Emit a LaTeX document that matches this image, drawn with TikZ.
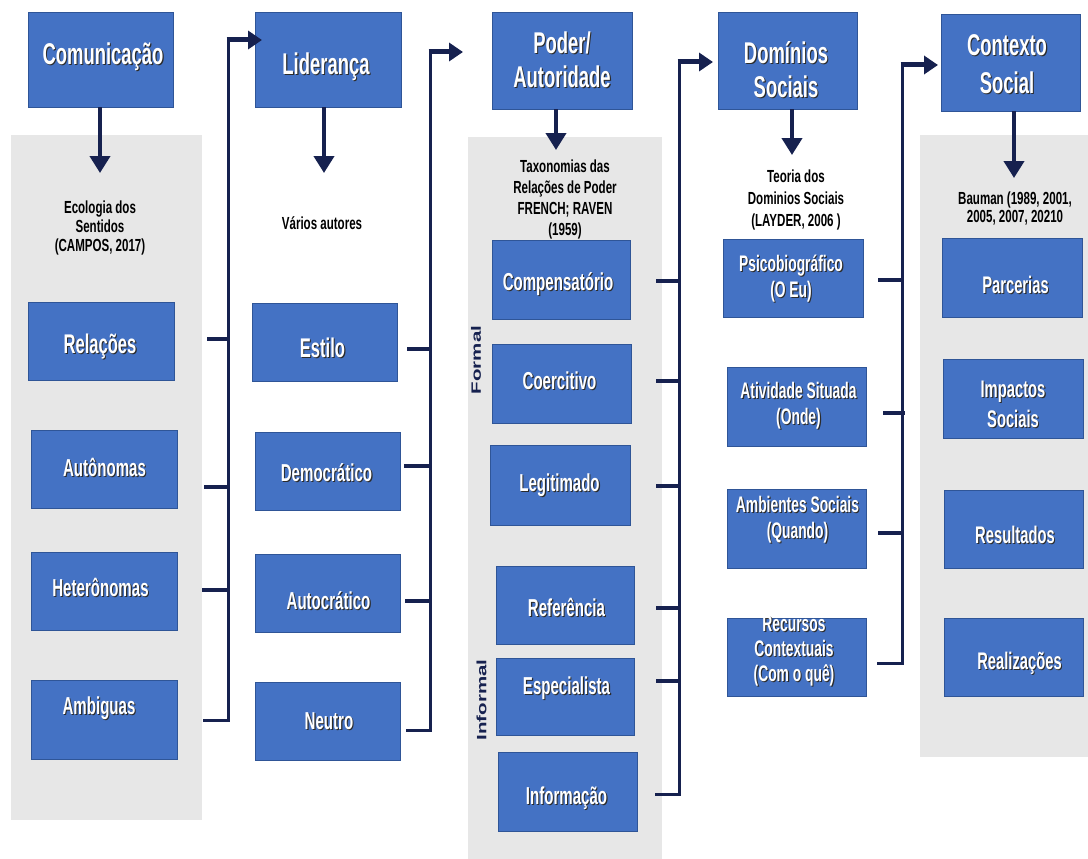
\documentclass[tikz,border=0pt]{standalone}
\usepackage{fontspec}
\setmainfont{Liberation Sans}
\newfontfamily\cond[FakeStretch=0.66]{Liberation Sans}
\newfontfamily\condw[FakeStretch=0.615]{Liberation Sans}
\usetikzlibrary{arrows.meta,calc}
\definecolor{boxblue}{HTML}{4472C4}
\definecolor{boxedge}{HTML}{2F5597}
\definecolor{panelgray}{HTML}{E7E7E7}
\definecolor{navy}{HTML}{16214F}
\definecolor{txtshadow}{HTML}{2B2B2B}
% white lettering with a small dark drop shadow
\newcommand\shd[1]{\leavevmode\rlap{\kern1.1pt\raisebox{-1.1pt}{\textcolor{txtshadow}{#1}}}#1}
\begin{document}
\begin{tikzpicture}[x=1pt,y=-1pt,
  bx/.style 2 args={fill=boxblue, draw=boxedge, line width=0.9pt, inner sep=0pt,
                    minimum width=#1, minimum height=#2},
  wt/.style={text=white, inner sep=0pt, align=center},
  ttop/.style={wt, font=\condw\bfseries\fontsize{30}{34}\selectfont},
  tbig/.style={wt, font=\condw\bfseries\fontsize{27}{30}\selectfont},
  tcol/.style={wt, font=\condw\bfseries\fontsize{24.5}{28}\selectfont},
  tdom/.style={wt, font=\condw\bfseries\fontsize{22.5}{26}\selectfont},
  tctx/.style={wt, font=\condw\bfseries\fontsize{24}{30}\selectfont},
  sub/.style={text=black, inner sep=0pt, align=center, font=\cond\bfseries\fontsize{17.5}{#1}\selectfont},
  side/.style={text=navy, inner sep=0pt, rotate=90, font=\bfseries\fontsize{20.5}{22}\selectfont},
  stub/.style={draw=navy, line width=3.4pt},
  bus/.style={draw=navy, line width=3pt, line cap=rect},
  toparrow/.style={draw=navy, line width=5pt, -{Triangle[length=14pt,width=18pt]}},
  downarrow/.style={draw=navy, line width=4pt, -{Triangle[length=17pt,width=20pt]}}
]
\fill[white] (0,0) rectangle (1088,859);
\useasboundingbox (0,0) rectangle (1088,859);

% grey panels behind the lists
\fill[panelgray] (11,135) rectangle (202,820);
\fill[panelgray] (468,137) rectangle (662,859);
\fill[panelgray] (920,135) rectangle (1088,757);

% header boxes
\node[bx={145pt}{95pt}] (com) at (100.5,59.5) {};
\node[bx={146pt}{95pt}] (lid) at (328.5,59.5) {};
\node[bx={140pt}{97pt}] (pod) at (562,60.5) {};
\node[bx={139pt}{97pt}] (dom) at (787.5,60.5) {};
\node[bx={139pt}{97pt}] (ctx) at (1010.5,62.5) {};
\node[ttop] (com-t) at (103,57) {\shd{Comunicação}};
\node[ttop] (lid-t) at (326,67) {\shd{Liderança}};
\node[ttop] (pod-t) at (562,60) {\shd{Poder/}\\\shd{Autoridade}};
\node[ttop] (dom-t) at (786,70) {\shd{Domínios}\\\shd{Sociais}};
\node[ttop, font=\condw\bfseries\fontsize{30}{38}\selectfont] (ctx-t) at (1007,65) {\shd{Contexto}\\\shd{Social}};

% sources under each header
\node[sub=19] (eco-t) at (100,228) {Ecologia dos\\Sentidos\\(CAMPOS, 2017)};
\node[sub=19] (var-t) at (322,223) {Vários autores};
\node[sub=21] (tax-t) at (565,199) {Taxonomias das\\Relações de Poder\\FRENCH; RAVEN\\(1959)};
\node[sub=22] (teo-t) at (796,200) {Teoria dos\\Dominios Sociais\\(LAYDER, 2006 )};
\node[sub=18] (bau-t) at (1015,209) {Bauman (1989, 2001,\\2005, 2007, 20210};

% Comunicação column
\node[bx={146pt}{78pt}] (rel) at (101,341) {};
\node[bx={146pt}{78pt}] (aut) at (104,469) {};
\node[bx={146pt}{78pt}] (het) at (104,591) {};
\node[bx={146pt}{79pt}] (amb) at (104,719.5) {};
\node[tbig] (rel-t) at (100,347) {\shd{Relações}};
\node[tcol] (aut-t) at (104.5,468) {\shd{Autônomas}};
\node[tcol] (het-t) at (100.5,588) {\shd{Heterônomas}};
\node[tcol] (amb-t) at (99,709) {\shd{Ambiguas}};

% Liderança column
\node[bx={145pt}{78pt}] (est) at (324.5,342) {};
\node[bx={145pt}{78pt}] (dem) at (327.5,471) {};
\node[bx={145pt}{78pt}] (atc) at (327.5,593) {};
\node[bx={145pt}{78pt}] (neu) at (327.5,721) {};
\node[tbig] (est-t) at (322.5,348) {\shd{Estilo}};
\node[tcol] (dem-t) at (326.5,473) {\shd{Democrático}};
\node[tcol] (atc-t) at (328.5,601) {\shd{Autocrático}};
\node[tcol] (neu-t) at (329,722) {\shd{Neutro}};

% Poder/Autoridade column
\node[bx={138pt}{79pt}] (cmp) at (561,279.5) {};
\node[bx={139pt}{79pt}] (coe) at (561.5,383.5) {};
\node[bx={140pt}{80pt}] (leg) at (560,485) {};
\node[bx={138pt}{78pt}] (ref) at (565,605) {};
\node[bx={138pt}{77pt}] (esp) at (565,696.5) {};
\node[bx={139pt}{79pt}] (inf) at (567.5,791.5) {};
\node[tcol] (cmp-t) at (558,285) {\shd{Compensatório}};
\node[tcol] (coe-t) at (559.5,381) {\shd{Coercitivo}};
\node[tcol] (leg-t) at (559.5,486) {\shd{Legitimado}};
\node[tcol] (ref-t) at (566.5,608) {\shd{Referência}};
\node[tcol] (esp-t) at (566.5,689) {\shd{Especialista}};
\node[tcol] (inf-t) at (566.5,799) {\shd{Informação}};
\node[side] (formal-t) at (476,360) {\scalebox{1}[0.66]{Formal}};
\node[side] (informal-t) at (481.5,700) {\scalebox{1}[0.66]{Informal}};

% Domínios Sociais column
\node[bx={140pt}{78pt}] (psi) at (793,278) {};
\node[bx={139pt}{79pt}] (ati) at (796.5,406.5) {};
\node[bx={139pt}{79pt}] (ams) at (796.5,528.5) {};
\node[bx={139pt}{78pt}] (rec) at (796.5,657) {};
\node[tdom] (psi-t) at (791,279) {\shd{Psicobiográfico}\\\shd{(O Eu)}};
\node[tdom] (ati-t) at (798.5,406) {\shd{Atividade Situada}\\\shd{(Onde)}};
\node[tdom] (ams-t) at (797.5,520) {\shd{Ambientes Sociais}\\\shd{(Quando)}};
\node[tdom, font=\condw\bfseries\fontsize{22.5}{25}\selectfont] (rec-t) at (794,652) {\shd{Recursos}\\\shd{Contextuais}\\\shd{(Com o quê)}};

% Contexto Social column
\node[bx={140pt}{79pt}] (par) at (1012,277.5) {};
\node[bx={140pt}{79pt}] (imp) at (1013,398.5) {};
\node[bx={139pt}{78pt}] (res) at (1013.5,529) {};
\node[bx={139pt}{78pt}] (rea) at (1013.5,657) {};
\node[tctx] (par-t) at (1015.5,285) {\shd{Parcerias}};
\node[tctx] (imp-t) at (1013,405) {\shd{Impactos}\\\shd{Sociais}};
\node[tctx] (res-t) at (1015,535) {\shd{Resultados}};
\node[tctx] (rea-t) at (1019.5,664) {\shd{Realizações}};

% connector end points
\foreach \n/\x/\y in {
  c1s1/207/339, c1s2/204/487, c1s3/202/590, c1s4/204/720, c1top/228/40, c1tip/262/40,
  c2s1/407/349, c2s2/404/466, c2s3/405/601, c2s4/407/730, c2top/430/52, c2tip/463/52,
  c3s1/656/281, c3s2/656/381, c3s3/656/486, c3s4/656/608, c3s5/656/681, c3s6/656/794,
  c3top/679/62, c3tip/713/62,
  c4s1/878/280, c4s2/883/413, c4s3/878/533, c4s4/878/663, c4top/902/65, c4tip/938/65,
  comtip/100/173, lidtip/324/173, podtip/556/150, domtip/792/155, ctxtip/1014/178}
  \coordinate (\n) at (\x,\y);

% arrows from each header down to its source
\draw[downarrow] (com.south -| comtip) -- (comtip);
\draw[downarrow] (lid.south -| lidtip) -- (lidtip);
\draw[downarrow] (pod.south -| podtip) -- (podtip);
\draw[downarrow] (dom.south -| domtip) -- (domtip);
\draw[downarrow] (ctx.south -| ctxtip) -- (ctxtip);

% bracket 1: Comunicação items lead on to Liderança
\foreach \s in {c1s1,c1s2,c1s3} \draw[stub] (\s) -- (\s -| c1top);
\draw[bus] (c1s4) -- (c1s4 -| c1top) -- (c1top);
\draw[toparrow] ([xshift=-1.5pt]c1top) -- (c1tip);

% bracket 2: Liderança items lead on to Poder/Autoridade
\foreach \s in {c2s1,c2s2,c2s3} \draw[stub] (\s) -- (\s -| c2top);
\draw[bus] (c2s4) -- (c2s4 -| c2top) -- (c2top);
\draw[toparrow] ([xshift=-1.5pt]c2top) -- (c2tip);

% bracket 3: Poder/Autoridade items lead on to Domínios Sociais
\foreach \s in {c3s1,c3s2,c3s3,c3s4,c3s5} \draw[stub] (\s) -- (\s -| c3top);
\draw[bus] (c3s6) -- (c3s6 -| c3top) -- (c3top);
\draw[toparrow] ([xshift=-1.5pt]c3top) -- (c3tip);

% bracket 4: Domínios Sociais items lead on to Contexto Social
\foreach \s in {c4s1,c4s3} \draw[stub] (\s) -- (\s -| c4top);
\draw[stub] (c4s2) -- ([xshift=3pt]c4s2 -| c4top);
\draw[bus] (c4s4) -- (c4s4 -| c4top) -- (c4top);
\draw[toparrow] ([xshift=-1.5pt]c4top) -- (c4tip);
\end{tikzpicture}
\end{document}
